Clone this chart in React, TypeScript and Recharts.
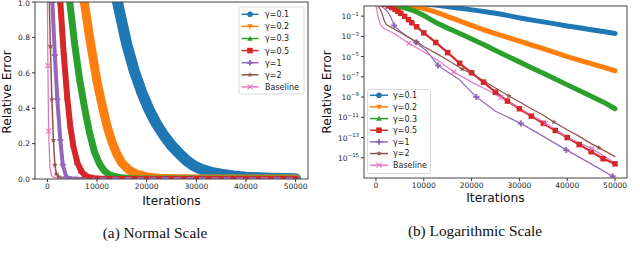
import React from 'react';
import { LineChart, Line, XAxis, YAxis } from 'recharts';

type Pt = [number, number];

// [iteration, relative error]
const gamma01: Pt[] = [
  [0, 2], [10000, 1.6], [13000, 1.15], [14500, 0.95], [16000, 0.76], [17500, 0.61],
  [19000, 0.49], [20500, 0.39], [22000, 0.31], [23500, 0.245], [25000, 0.19], [26500, 0.145],
  [28000, 0.105], [29500, 0.075], [31000, 0.055], [33000, 0.038], [35000, 0.027], [37500, 0.017],
  [40000, 0.0105], [42500, 0.007], [45000, 0.0045], [47500, 0.003], [50000, 0.0019],
];
const gamma02: Pt[] = [
  [0, 2], [5000, 1.5], [7000, 1.08], [8500, 0.8], [10000, 0.55], [11000, 0.42], [12000, 0.3],
  [13000, 0.21], [14000, 0.14], [15000, 0.09], [16500, 0.05], [18000, 0.027], [20000, 0.012],
  [22500, 0.0045], [25000, 0.0019], [27500, 8e-4], [30000, 3.3e-4], [32500, 1.4e-4], [35000, 6e-5],
  [37500, 2.5e-5], [40000, 1e-5], [42500, 4.5e-6], [45000, 2e-6], [47500, 9e-7], [50000, 4e-7],
];
const gamma03: Pt[] = [
  [0, 2], [3000, 1.4], [4500, 1.0], [5500, 0.76], [6500, 0.56], [7500, 0.4], [8500, 0.26],
  [9500, 0.15], [10500, 0.085], [11500, 0.045], [12500, 0.024], [13500, 0.014], [15000, 0.0065],
  [16500, 0.0032], [18000, 0.0015], [20000, 5.5e-4], [22500, 1.6e-4], [25000, 4e-5], [27500, 1.1e-5],
  [30000, 3e-6], [32500, 8e-7], [35000, 2.2e-7], [37500, 6e-8], [40000, 1.6e-8], [42500, 4.5e-9],
  [45000, 1.2e-9], [47500, 3.3e-10], [50000, 7e-11],
];
const gamma05: Pt[] = [
  [0, 2], [1500, 1.5], [2600, 1.0], [3300, 0.7], [4000, 0.46], [4600, 0.3], [5200, 0.19],
  [6000, 0.095], [6800, 0.045], [7500, 0.022], [8500, 0.009], [10000, 0.0022], [12500, 2.5e-4],
  [15000, 2.5e-5], [17500, 2.2e-6], [20000, 2.5e-7], [22500, 3e-8], [25000, 3e-9], [27500, 4e-10],
  [30000, 7e-11], [32500, 1.3e-11], [35000, 2.5e-12], [37500, 5e-13], [40000, 1e-13], [42500, 2e-14],
  [45000, 4e-15], [47500, 8e-16], [50000, 2.5e-16],
];
const gamma1: Pt[] = [
  [0, 2], [600, 1.4], [1000, 1.0], [1500, 0.7], [2000, 0.45], [2600, 0.22], [3100, 0.08],
  [3800, 0.012], [4800, 4e-3], [6500, 1e-3], [8400, 2.5e-4], [10500, 4e-5], [13000, 1.3e-6],
  [15000, 3e-7], [17500, 5e-8], [21000, 1e-9], [25000, 4e-11], [30300, 2.5e-12], [35000, 1.3e-13],
  [39800, 6e-15], [45000, 2.5e-16], [49500, 1.5e-17],
];
const gamma2: Pt[] = [
  [0, 2], [300, 1.1], [600, 0.75], [900, 0.45], [1200, 0.22], [1500, 0.08], [1800, 0.03],
  [2200, 0.014], [3300, 0.007], [5000, 2.5e-3], [8600, 2.7e-4], [10000, 1e-4], [12500, 2.2e-5],
  [15000, 4.5e-6], [18000, 6e-7], [20000, 2e-7], [22500, 4e-8], [25000, 8e-9], [27800, 1.3e-9],
  [30000, 3.5e-10], [32500, 7e-11], [35000, 1.6e-11], [37200, 3.5e-12], [40000, 6e-13],
  [42500, 1.3e-13], [45000, 2.5e-14], [46600, 1e-14], [50000, 1.3e-15],
];
const baseline: Pt[] = [
  [0, 1.0], [100, 0.64], [250, 0.27], [500, 0.07], [800, 0.022], [1100, 0.011], [1700, 0.006],
  [3300, 0.0025], [5000, 8e-4], [6900, 2e-4], [10000, 3e-5], [13000, 4e-6], [16300, 3e-7],
  [20000, 3e-8], [23000, 6e-9], [26100, 9e-10], [30000, 8e-11], [35500, 2.5e-12], [40000, 1e-13],
  [45200, 8e-15], [50000, 3e-16],
];

const iterTicks = [0, 10000, 20000, 30000, 40000, 50000];
const linTicks = [0, 0.2, 0.4, 0.6, 0.8, 1.0];
const logTicks = [1e-1, 1e-3, 1e-5, 1e-7, 1e-9, 1e-11, 1e-13, 1e-15];

type Marks = 'none' | 'all' | number[];
interface Series {
  key: string;
  label: string;
  color: string;
  marker: string;
  pts: Pt[];
  linWidth: number;
  logWidth: number;
  linMarks: Marks;
  logMarks: Marks;
}

const seriesList: Series[] = [
  { key: 'g01', label: 'γ=0.1', color: '#1f77b4', marker: 'o', pts: gamma01, linWidth: 11, logWidth: 5, linMarks: 'none', logMarks: 'none' },
  { key: 'g02', label: 'γ=0.2', color: '#ff7f0e', marker: 'v', pts: gamma02, linWidth: 9, logWidth: 5, linMarks: 'none', logMarks: 'none' },
  { key: 'g03', label: 'γ=0.3', color: '#2ca02c', marker: '^', pts: gamma03, linWidth: 7, logWidth: 5, linMarks: 'none', logMarks: 'none' },
  { key: 'g05', label: 'γ=0.5', color: '#d62728', marker: 's', pts: gamma05, linWidth: 6, logWidth: 2.2, linMarks: 'all', logMarks: 'all' },
  { key: 'g1', label: 'γ=1', color: '#9467bd', marker: 'P', pts: gamma1, linWidth: 4, logWidth: 1.2,
    linMarks: [600, 1000, 1500, 2000, 2600, 3100, 3800], logMarks: [3800, 8400, 13000, 21000, 30300, 39800, 49500] },
  { key: 'g2', label: 'γ=2', color: '#8c564b', marker: '*', pts: gamma2, linWidth: 1.5, logWidth: 1.2,
    linMarks: [300, 600, 900, 1200, 1500, 1800, 2200], logMarks: [8600, 18000, 27800, 37200, 46600] },
  { key: 'base', label: 'Baseline', color: '#e377c2', marker: 'x', pts: baseline, linWidth: 1.3, logWidth: 1.2,
    linMarks: [100, 250], logMarks: [6900, 16300, 26100, 35500, 45200] },
];

const allIts = Array.from(new Set(seriesList.flatMap((s) => s.pts.map((p) => p[0])))).sort((a, b) => a - b);
const table = allIts.map((it) => {
  const row: Record<string, number | null> = { it };
  seriesList.forEach((s) => {
    const p = s.pts.find((q) => q[0] === it);
    row[s.key] = p ? p[1] : null;
  });
  return row;
});

const FONT = '"DejaVu Sans", sans-serif';
const TICK_COLOR = '#262626';

function Marker({ type, x, y, color, size }: { type: string; x: number; y: number; color: string; size: number }) {
  const h = size / 2;
  switch (type) {
    case 'o':
      return <circle cx={x} cy={y} r={h} fill={color} />;
    case 'v':
      return <polygon points={`${x - h},${y - h * 0.8} ${x + h},${y - h * 0.8} ${x},${y + h}`} fill={color} />;
    case '^':
      return <polygon points={`${x - h},${y + h * 0.8} ${x + h},${y + h * 0.8} ${x},${y - h}`} fill={color} />;
    case 's':
      return <rect x={x - h} y={y - h} width={size} height={size} fill={color} />;
    case 'P': {
      const t = size / 6;
      return (
        <path
          d={`M${x - t},${y - h} H${x + t} V${y - t} H${x + h} V${y + t} H${x + t} V${y + h} H${x - t} V${y + t} H${x - h} V${y - t} H${x - t} Z`}
          fill={color}
        />
      );
    }
    case '*': {
      const pts: string[] = [];
      for (let i = 0; i < 10; i++) {
        const r = i % 2 === 0 ? h : h * 0.42;
        const a = -Math.PI / 2 + (i * Math.PI) / 5;
        pts.push(`${x + r * Math.cos(a)},${y + r * Math.sin(a)}`);
      }
      return <polygon points={pts.join(' ')} fill={color} />;
    }
    case 'x':
      return (
        <g stroke={color} strokeWidth={1.1}>
          <line x1={x - h} y1={y - h} x2={x + h} y2={y + h} />
          <line x1={x - h} y1={y + h} x2={x + h} y2={y - h} />
        </g>
      );
    default:
      return <g />;
  }
}

function makeDot(s: Series, marks: Marks) {
  return (p: any) => {
    const key = `${s.key}-${p.index}`;
    if (marks === 'none' || p.cx == null || p.cy == null || p.value == null) return <g key={key} />;
    const it = p.payload?.it;
    if (marks !== 'all' && !marks.includes(it)) return <g key={key} />;
    const size = s.marker === 's' ? 5.5 : s.marker === 'x' ? 5 : 6;
    return (
      <g key={key}>
        <Marker type={s.marker} x={p.cx} y={p.cy} color={s.color} size={size} />
      </g>
    );
  };
}

const LogTick = (props: any) => {
  const { x, y, payload } = props;
  const e = Math.round(Math.log10(payload.value));
  return (
    <text x={x} y={y + 3} textAnchor="end" fontSize={7.5} fill={TICK_COLOR} fontFamily={FONT}>
      <tspan>10</tspan>
      <tspan dy={-3.6} fontSize={5.4}>{'−' + Math.abs(e)}</tspan>
    </text>
  );
};

// the top label sits right at the figure edge, nudge it down so it stays whole
const LinTick = (props: any) => {
  const { x, y, payload } = props;
  const yy = payload.value >= 1 ? Math.max(y + 2.7, 6.2) : y + 2.7;
  return (
    <text x={x} y={yy} textAnchor="end" fontSize={7.5} fill={TICK_COLOR} fontFamily={FONT}>
      {payload.value.toFixed(1)}
    </text>
  );
};

function Panel({ log }: { log: boolean }) {
  return (
    <div style={{ position: 'absolute', left: log ? 320 : 0, top: 0 }}>
      <LineChart
        width={320}
        height={200}
        data={table}
        margin={log ? { top: 6, right: 13, left: 0, bottom: 0 } : { top: 2, right: 12, left: 0, bottom: 0 }}
      >
        <XAxis
          dataKey="it"
          type="number"
          domain={[-2500, 52500]}
          allowDataOverflow
          ticks={iterTicks}
          interval={0}
          height={log ? 22 : 21}
          tickSize={3}
          tickMargin={2}
          axisLine={false}
          tickLine={{ stroke: '#333' }}
          tick={{ fontSize: 7.5, fill: TICK_COLOR, fontFamily: FONT }}
        />
        {log ? (
          <YAxis
            type="number"
            scale="log"
            domain={[1e-17, 1]}
            allowDataOverflow
            ticks={logTicks}
            interval={0}
            width={44}
            tickSize={3}
            tickMargin={2}
            axisLine={false}
            tickLine={{ stroke: '#333' }}
            tick={<LogTick />}
          />
        ) : (
          <YAxis
            type="number"
            domain={[0, 1]}
            allowDataOverflow
            ticks={linTicks}
            interval={0}
            width={35}
            tickSize={3}
            tickMargin={2}
            axisLine={false}
            tickLine={{ stroke: '#333' }}
            tick={<LinTick />}
          />
        )}
        {seriesList.map((s) => (
          <Line
            key={s.key}
            type="linear"
            dataKey={s.key}
            stroke={s.color}
            strokeWidth={log ? s.logWidth : s.linWidth}
            strokeLinejoin="round"
            strokeLinecap="round"
            connectNulls
            dot={makeDot(s, log ? s.logMarks : s.linMarks)}
            activeDot={false}
            isAnimationActive={false}
          />
        ))}
      </LineChart>
    </div>
  );
}

function LegendBox({ x, y, w, h, row0, gap, lx0, lx1, tx }: {
  x: number; y: number; w: number; h: number; row0: number; gap: number; lx0: number; lx1: number; tx: number;
}) {
  return (
    <g>
      <rect x={x} y={y} width={w} height={h} rx={2} fill="#fff" fillOpacity={0.85} stroke="#d0d0d0" strokeWidth={0.8} />
      {seriesList.map((s, i) => {
        const cy = row0 + i * gap;
        return (
          <g key={s.key}>
            <line x1={lx0} y1={cy} x2={lx1} y2={cy} stroke={s.color} strokeWidth={1.5} />
            <Marker type={s.marker} x={(lx0 + lx1) / 2} y={cy} color={s.color} size={s.marker === 'x' ? 5 : 5.6} />
            <text x={tx} y={cy + 2.9} fontSize={8} fill="#222" fontFamily={FONT}>{s.label}</text>
          </g>
        );
      })}
    </g>
  );
}

export default function App() {
  return (
    <div style={{ position: 'absolute', left: 0, top: 0, width: 640, height: 257, background: '#fff', overflow: 'hidden', fontFamily: FONT }}>
      <Panel log={false} />
      <Panel log={true} />
      <svg width={640} height={257} style={{ position: 'absolute', left: 0, top: 0, pointerEvents: 'none' }}>
        <rect x={35} y={2} width={273} height={177} fill="none" stroke="#444" strokeWidth={1} />
        <rect x={364} y={6} width={263} height={172} fill="none" stroke="#444" strokeWidth={1} />
        <LegendBox x={239} y={7} w={65} h={87} row0={14.3} gap={12.1} lx0={241.5} lx1={258.5} tx={265} />
        <LegendBox x={367.5} y={89.5} w={63} h={84} row0={95.3} gap={11.65} lx0={370} lx1={388} tx={393} />
        <text x={7} y={92} fontSize={12.3} fill="#111" fontFamily={FONT} textAnchor="middle" dominantBaseline="central" transform="rotate(-90 7 92)">Relative Error</text>
        <text x={327} y={92} fontSize={12.3} fill="#111" fontFamily={FONT} textAnchor="middle" dominantBaseline="central" transform="rotate(-90 327 92)">Relative Error</text>
        <text x={171.5} y={201} fontSize={12.3} fill="#111" fontFamily={FONT} textAnchor="middle" dominantBaseline="central">Iterations</text>
        <text x={495.5} y={198} fontSize={12.3} fill="#111" fontFamily={FONT} textAnchor="middle" dominantBaseline="central">Iterations</text>
        <text x={155} y={232} fontSize={15.3} fill="#111" fontFamily='"Liberation Serif", serif' textAnchor="middle" dominantBaseline="central">(a) Normal Scale</text>
        <text x={475} y={230} fontSize={15.3} fill="#111" fontFamily='"Liberation Serif", serif' textAnchor="middle" dominantBaseline="central">(b) Logarithmic Scale</text>
      </svg>
    </div>
  );
}
